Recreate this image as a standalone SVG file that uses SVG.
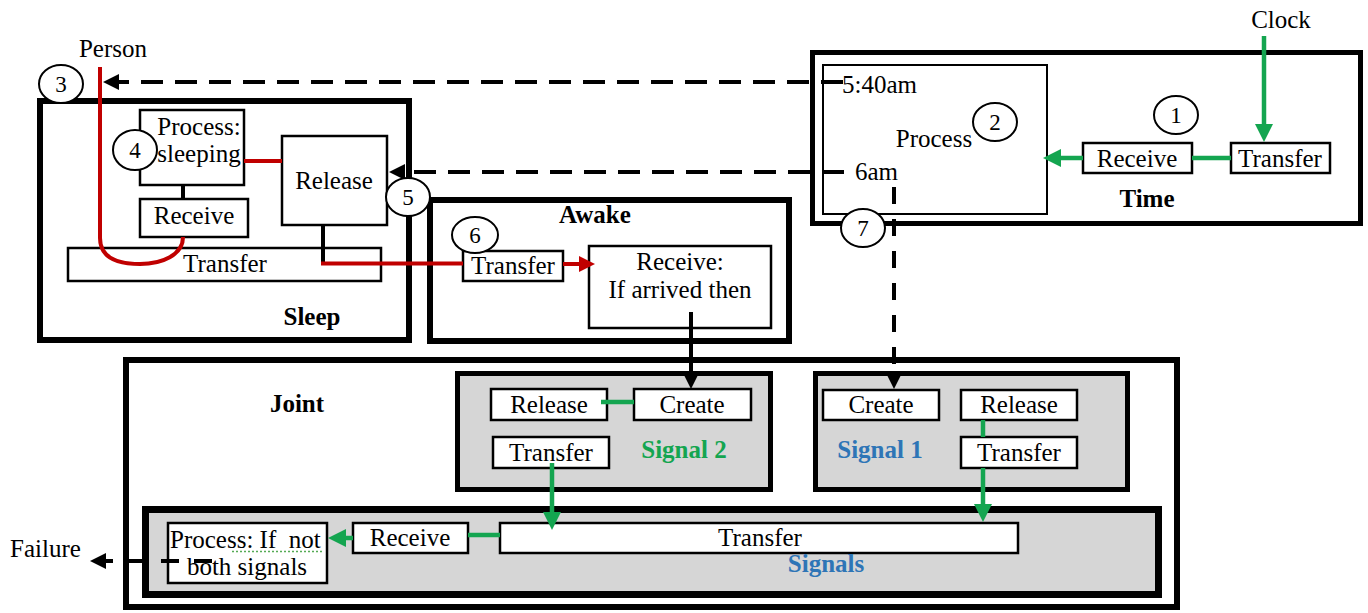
<svg xmlns="http://www.w3.org/2000/svg" width="1368" height="613" viewBox="0 0 1368 613">
<style>
.frame{fill:#fff;stroke:#000;stroke-width:6}
.gframe{fill:#d6d6d6;stroke:#000;stroke-width:5}
.box{fill:#fff;stroke:#000;stroke-width:2.5}
.t{font-family:"Liberation Serif","Times New Roman",serif;font-size:25px;fill:#000;text-anchor:middle}
.s{text-anchor:start}
.b{font-weight:bold}
.num{font-size:23px}
.circ{fill:#fff;stroke:#000;stroke-width:2}
.dash{stroke:#000;stroke-width:4;fill:none;stroke-dasharray:22 12}
.vdash{stroke:#000;stroke-width:4;fill:none;stroke-dasharray:17 15}
.green{stroke:#14a550;stroke-width:4.5;fill:none}
.red{stroke:#c00000;stroke-width:4;fill:none}
.blk{stroke:#000;stroke-width:4;fill:none}
</style>
<defs>
<marker id="ab" viewBox="0 0 16 16" refX="8" refY="8" markerWidth="16" markerHeight="16" markerUnits="userSpaceOnUse" orient="auto"><path d="M0,0 L16,8 L0,16 z" fill="#000"/></marker>
<marker id="ag" viewBox="0 0 18 18" refX="9" refY="9" markerWidth="18" markerHeight="18" markerUnits="userSpaceOnUse" orient="auto"><path d="M0,0 L18,9 L0,18 z" fill="#14a550"/></marker>
<marker id="ar" viewBox="0 0 16 16" refX="8" refY="8" markerWidth="16" markerHeight="16" markerUnits="userSpaceOnUse" orient="auto"><path d="M0,0 L16,8 L0,16 z" fill="#c00000"/></marker>
</defs>
<rect width="1368" height="613" fill="#fff"/>

<g id="person"><text class="t" x="113" y="57">Person</text></g>
<g id="clock"><text class="t" x="1281" y="28">Clock</text></g>
<g id="failure"><text class="t s" x="10" y="557">Failure</text></g>

<g id="sleep">
<rect class="frame" x="40" y="101" width="369" height="239"/>
<rect class="box" x="140" y="110" width="104" height="75"/>
<rect class="box" x="140" y="199" width="108" height="38"/>
<text class="t" x="194" y="224">Receive</text>
<rect class="box" x="282" y="136" width="105" height="89"/>
<text class="t" x="334" y="189">Release</text>
<rect class="box" x="68" y="248" width="313" height="33"/>
<text class="t" x="225" y="272">Transfer</text>
<text class="t b" x="312" y="325">Sleep</text>
</g>

<g id="awake">
<rect class="frame" x="430" y="200" width="359" height="141"/>
<text class="t b" x="595" y="223">Awake</text>
<rect class="box" x="463" y="251" width="100" height="30"/>
<text class="t" x="513" y="274">Transfer</text>
<rect class="box" x="589" y="246" width="182" height="82"/>
<text class="t" x="680" y="270">Receive:</text>
<text class="t" x="680" y="298">If arrived then</text>
</g>

<g id="time">
<rect class="frame" x="812.5" y="52.5" width="548" height="171" style="stroke-width:5"/>
<rect class="box" x="823" y="65" width="224" height="149" style="stroke-width:2"/>
<text class="t s" x="842" y="93">5:40am</text>
<text class="t" x="934" y="147">Process</text>
<text class="t s" x="855" y="180">6am</text>
<rect class="box" x="1083" y="143" width="109" height="30"/>
<text class="t" x="1137" y="167">Receive</text>
<rect class="box" x="1231" y="143" width="99" height="30"/>
<text class="t" x="1280" y="167">Transfer</text>
<text class="t b" x="1147" y="207">Time</text>
</g>

<g id="joint">
<rect class="frame" x="126" y="360" width="1051" height="247"/>
<text class="t b" x="297" y="412">Joint</text>
</g>

<g id="signal2">
<rect class="gframe" x="457.5" y="373.5" width="313" height="116"/>
<rect class="box" x="491" y="389" width="116" height="31"/>
<text class="t" x="549" y="413">Release</text>
<rect class="box" x="634" y="389" width="117" height="31"/>
<text class="t" x="692" y="413">Create</text>
<rect class="box" x="493" y="437" width="116" height="31"/>
<text class="t" x="551" y="461">Transfer</text>
<text class="t b" x="684" y="458" fill="#14a550" style="fill:#14a550">Signal 2</text>
</g>

<g id="signal1">
<rect class="gframe" x="815.5" y="373.5" width="312" height="116"/>
<rect class="box" x="823" y="390" width="116" height="30"/>
<text class="t" x="881" y="413">Create</text>
<rect class="box" x="961" y="390" width="116" height="30"/>
<text class="t" x="1019" y="413">Release</text>
<rect class="box" x="961" y="437" width="116" height="31"/>
<text class="t" x="1019" y="461">Transfer</text>
<text class="t b" x="880" y="458" style="fill:#2e75b6">Signal 1</text>
</g>

<g id="signals">
<rect class="gframe" x="145.5" y="509.5" width="1013" height="85" style="stroke-width:7"/>
<rect class="box" x="500" y="523" width="518" height="30"/>
<text class="t" x="760" y="546">Transfer</text>
<rect class="box" x="353" y="523" width="115" height="30"/>
<text class="t" x="410" y="546">Receive</text>
<rect class="box" x="168" y="523" width="159" height="60"/>
<text class="t s" x="170" y="548" style="white-space:pre">Process: If  not</text>
<path d="M232,551.5 H323" stroke="#5a5" stroke-width="1.5" stroke-dasharray="2 2" fill="none"/>
<text class="t" x="247" y="575">both signals</text>
<text class="t b" x="826" y="572" style="fill:#2e75b6">Signals</text>
</g>

<g id="connectors">
<path class="dash" d="M843,82 H111" marker-end="url(#ab)"/>
<path class="dash" d="M844,172 H397" marker-end="url(#ab)"/>
<path class="vdash" d="M894,187 V381" marker-end="url(#ab)"/>
<path class="blk" d="M691,312 V381" marker-end="url(#ab)"/>
<path class="dash" d="M212,561 H98" style="stroke-dasharray:18 15" marker-end="url(#ab)"/>
<path class="green" d="M1264,36 V133" marker-end="url(#ag)"/>
<path class="green" d="M1192,158 H1231"/>
<path class="green" d="M1083,158 H1052" marker-end="url(#ag)"/>
<path class="red" d="M244,161 H282"/>
<path class="blk" d="M183,185 V199"/>
<path class="red" d="M100,67 V238 C100,258 118,264 140,264 C162,264 183,255 183,237"/>
<path class="blk" d="M323,225 V263"/>
<path class="red" d="M321,263.5 H463"/>
<path class="red" d="M563,264 H587" marker-end="url(#ar)"/>
<path class="green" d="M601,402 H634"/>
<path class="green" d="M552,463 V521" marker-end="url(#ag)"/>
<path class="green" d="M983,420 V437"/>
<path class="green" d="M983,468 V513" marker-end="url(#ag)"/>
<path class="green" d="M468,535 H500"/>
<path class="green" d="M353,538 H337" marker-end="url(#ag)"/>
</g>

<g id="steps">
<ellipse class="circ" cx="1176" cy="115" rx="22" ry="19"/><text class="t num" x="1176" y="123">1</text>
<ellipse class="circ" cx="995" cy="122" rx="22" ry="19"/><text class="t num" x="995" y="130">2</text>
<ellipse class="circ" cx="61" cy="84" rx="22" ry="19"/><text class="t num" x="61" y="92">3</text>
<ellipse class="circ" cx="135" cy="150" rx="22" ry="20"/><text class="t num" x="135" y="158">4</text>
<ellipse class="circ" cx="408" cy="197" rx="22" ry="19"/><text class="t num" x="408" y="205">5</text>
<ellipse class="circ" cx="475" cy="235" rx="23" ry="18"/><text class="t num" x="475" y="243">6</text>
<ellipse class="circ" cx="863" cy="228" rx="22" ry="19"/><text class="t num" x="863" y="236">7</text>
</g>

<g id="sleep-labels">
<text class="t" x="199" y="135">Process:</text>
<text class="t" x="199" y="162">sleeping</text>
</g>
</svg>
